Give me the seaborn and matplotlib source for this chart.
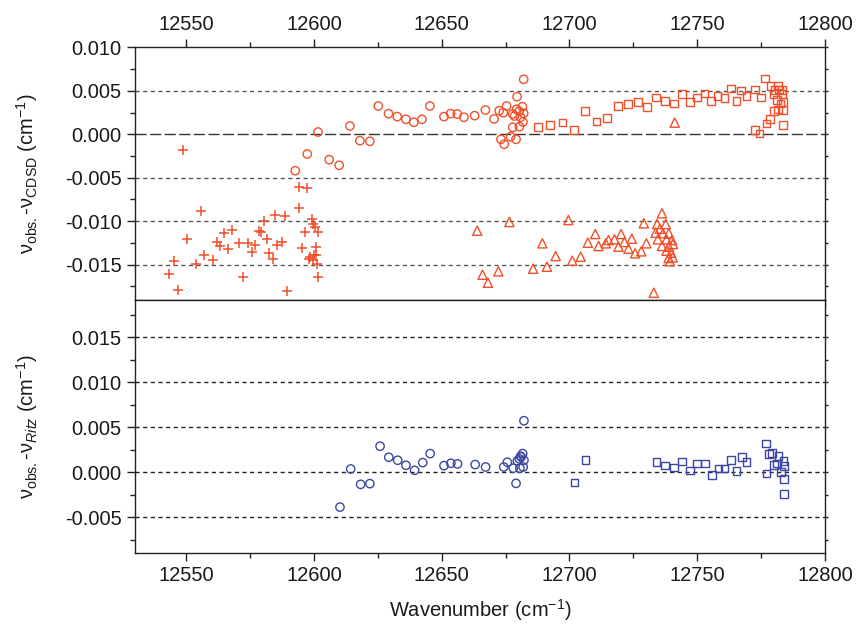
import numpy as np
import pandas as pd
import matplotlib
matplotlib.use("Agg")
import matplotlib.pyplot as plt
import seaborn as sns
from matplotlib.ticker import MultipleLocator, FormatStrFormatter

# ---------------- data ----------------
# top panel: obs - CDSD
plus_x = [12548.9, 12555.7, 12550.5, 12545.3, 12543.4, 12547.0, 12557.0, 12553.9, 12560.4, 12562.2,
          12563.3, 12564.8, 12568.0, 12566.4, 12570.6, 12572.1, 12574.2, 12575.8, 12577.1, 12578.4,
          12579.2, 12580.5, 12581.5, 12582.6, 12583.9, 12584.7, 12585.7, 12587.5, 12588.6, 12589.4,
          12594.0, 12597.2, 12594.0, 12595.4, 12596.6, 12599.2, 12599.5, 12600.3, 12601.6, 12600.8,
          12598.5, 12599.5, 12600.8, 12601.3, 12601.6, 12598.0, 12600.0]
plus_y = [-0.0018, -0.00886, -0.01208, -0.01453, -0.01611, -0.01791, -0.01385, -0.01488, -0.01446, -0.01239,
          -0.01285, -0.01139, -0.01101, -0.01316, -0.01247, -0.01645, -0.01254, -0.0135, -0.01277, -0.01108,
          -0.01124, -0.00994, -0.01208, -0.01369, -0.01438, -0.00932, -0.01277, -0.01239, -0.0094, -0.01799,
          -0.0061, -0.00618, -0.00851, -0.01308, -0.01124, -0.00978, -0.01032, -0.01063, -0.01124, -0.01293,
          -0.01408, -0.01446, -0.01392, -0.01492, -0.01638, -0.01438, -0.01388]

circ_x = [12592.7, 12597.4, 12601.6, 12606.0, 12609.9, 12614.1, 12618.0, 12621.9, 12625.2, 12629.2,
          12632.6, 12636.0, 12639.1, 12642.3, 12645.4, 12650.9, 12653.5, 12656.1, 12658.7, 12662.9,
          12667.1, 12670.5, 12672.5, 12674.1, 12675.4, 12677.8, 12678.5, 12679.3, 12680.3, 12681.6,
          12682.1, 12681.8, 12679.5, 12682.1, 12677.8, 12677.0, 12679.1, 12673.2, 12674.5, 12680.9,
          12680.4]
circ_y = [-0.00419, -0.00227, 0.00026, -0.00292, -0.00357, 0.00095, -0.00074, -0.00081, 0.00325, 0.00237,
          0.00203, 0.00172, 0.00138, 0.00172, 0.00325, 0.00203, 0.00237, 0.00233, 0.00196, 0.00214,
          0.00279, 0.00176, 0.00271, 0.00248, 0.00325, 0.00233, 0.0021, 0.00287, 0.00264, 0.00317,
          0.00241, 0.00141, 0.00432, 0.00632, 0.0008, -0.00028, -0.00058, -0.00058, -0.00115, 0.00196,
          0.00087]

sq_x = [12687.8, 12692.5, 12697.3, 12701.7, 12706.2, 12710.6, 12714.8, 12719.0, 12722.9, 12726.8,
        12730.4, 12733.8, 12737.5, 12740.9, 12744.0, 12747.1, 12750.0, 12752.9, 12755.4, 12758.0,
        12760.7, 12763.3, 12765.4, 12767.2, 12769.3, 12772.6, 12775.0, 12776.6, 12778.7, 12779.8,
        12780.3, 12781.6, 12782.1, 12783.4, 12783.6, 12782.6, 12781.6, 12780.0, 12778.4, 12777.1,
        12772.6, 12774.3, 12783.6, 12783.6, 12783.2, 12781.3]
sq_y = [0.00087, 0.00104, 0.00134, 0.00046, 0.00271, 0.00145, 0.00187, 0.00325, 0.00348, 0.00371,
        0.00317, 0.00425, 0.00386, 0.00356, 0.00463, 0.00371, 0.00425, 0.00471, 0.00386, 0.0044,
        0.00417, 0.00524, 0.0038, 0.00501, 0.0044, 0.00517, 0.00425, 0.00639, 0.00555, 0.00463,
        0.00509, 0.00563, 0.00517, 0.00463, 0.00371, 0.00356, 0.00287, 0.00271, 0.00179, 0.00126,
        0.00049, 0.00011, 0.00107, 0.0028, 0.00509, 0.00394]

tri_x = [12663.9, 12676.5, 12666.0, 12668.1, 12672.2, 12685.8, 12689.4, 12691.2, 12694.6, 12699.6,
         12701.1, 12704.4, 12707.2, 12710.1, 12711.4, 12714.2, 12715.3, 12717.6, 12719.2, 12720.2,
         12721.5, 12723.1, 12724.4, 12725.7, 12728.1, 12729.1, 12730.1, 12733.0, 12736.2, 12734.3,
         12735.4, 12737.7, 12733.7, 12736.6, 12738.9, 12734.6, 12738.0, 12740.1, 12736.2, 12738.9,
         12740.5, 12738.0, 12739.8, 12738.8, 12740.4, 12739.3, 12741.2]
tri_y = [-0.01109, -0.01009, -0.01615, -0.01707, -0.01576, -0.01546, -0.01254, -0.01523, -0.014, -0.00986,
         -0.01454, -0.01408, -0.01247, -0.01147, -0.01285, -0.01254, -0.01216, -0.01208, -0.01293, -0.01147,
         -0.01239, -0.01316, -0.01201, -0.01369, -0.01346, -0.01024, -0.01254, -0.01822, -0.00909, -0.01032,
         -0.01086, -0.01032, -0.01132, -0.01139, -0.01139, -0.01208, -0.01208, -0.01216, -0.01285, -0.01293,
         -0.01262, -0.01339, -0.01362, -0.01423, -0.01415, -0.01461, 0.00134]

# bottom panel: obs - Ritz
rc_x = [12610.2, 12614.4, 12618.3, 12621.9, 12625.9, 12629.3, 12632.8, 12636.0, 12639.4, 12642.6,
        12645.5, 12650.9, 12653.6, 12656.2, 12663.1, 12667.2, 12674.3, 12675.7, 12678.0, 12679.1,
        12679.6, 12680.4, 12680.9, 12681.7, 12682.2, 12681.9, 12680.6, 12682.2, 12681.1]
rc_y = [-0.00387, 0.00037, -0.00134, -0.00126, 0.0029, 0.00167, 0.00134, 0.00078, 0.00022, 0.00108,
        0.00208, 0.00074, 0.001, 0.00093, 0.00086, 0.00059, 0.00059, 0.00112, 0.00045, -0.00123,
        0.00126, 0.00149, 0.00179, 0.00208, 0.00134, 0.00059, 0.00045, 0.00573, 0.00171]

rs_x = [12702.0, 12706.3, 12734.1, 12737.5, 12740.9, 12744.0, 12747.1, 12750.0, 12753.0, 12755.7,
        12758.4, 12760.7, 12763.1, 12765.4, 12767.5, 12769.3, 12776.8, 12778.2, 12779.2, 12781.8,
        12780.0, 12781.3, 12777.1, 12782.9, 12783.7, 12784.0, 12784.0, 12784.0]
rs_y = [-0.00112, 0.00134, 0.00112, 0.00074, 0.00052, 0.00119, 0.00019, 0.00097, 0.00097, -0.00033,
        0.00041, 0.00041, 0.00134, 0.00015, 0.00171, 0.00115, 0.0032, 0.00201, 0.00216, 0.00179,
        0.00082, 0.00097, -0.00015, 0.0, 0.00126, 0.0007, -0.00075, -0.00242]

x_ticks = [12550, 12600, 12650, 12700, 12750, 12800]
top_yticks = [-0.015, -0.010, -0.005, 0.000, 0.005, 0.010]
bot_yticks = [-0.005, 0.000, 0.005, 0.010, 0.015]

# ---------------- style ----------------
sns.set_style("ticks")
plt.rcParams["font.family"] = ["Liberation Sans", "DejaVu Sans"]
plt.rcParams["mathtext.fontset"] = "custom"
plt.rcParams["mathtext.rm"] = "Liberation Sans"
plt.rcParams["mathtext.it"] = "Liberation Sans:italic"
plt.rcParams["mathtext.bf"] = "Liberation Sans:bold"

ORANGE = "#F0502A"
BLUE = "#3D47A3"
FS = 14.5

fig = plt.figure(figsize=(8.56, 6.28), dpi=100)
L, R = 135 / 856, 825 / 856
ax1 = fig.add_axes([L, 1 - 299.5 / 628, R - L, (299.5 - 47.3) / 628])
ax2 = fig.add_axes([L, 1 - 553.3 / 628, R - L, (553.3 - 299.5) / 628])

def scat(ax, x, y, marker, color, s, filled=True):
    df = pd.DataFrame({"x": x, "y": y})
    if filled:
        sns.scatterplot(data=df, x="x", y="y", ax=ax, marker=marker, s=s,
                        facecolor="none", edgecolor=color, linewidth=1.0, zorder=3)
    else:
        sns.scatterplot(data=df, x="x", y="y", ax=ax, marker=marker, s=s,
                        color=color, linewidth=1.1, zorder=3)

scat(ax1, plus_x, plus_y, "+", ORANGE, 50, filled=False)
scat(ax1, circ_x, circ_y, "o", ORANGE, 36)
scat(ax1, sq_x, sq_y, "s", ORANGE, 30)
scat(ax1, tri_x, tri_y, "^", ORANGE, 44)
scat(ax2, rc_x, rc_y, "o", BLUE, 36)
scat(ax2, rs_x, rs_y, "s", BLUE, 30)

for ax in (ax1, ax2):
    ax.set_xlim(12530, 12800)
    ax.set_xticks(x_ticks)
    ax.xaxis.set_minor_locator(MultipleLocator(25))
    ax.yaxis.set_minor_locator(MultipleLocator(0.0025))
    ax.yaxis.set_major_formatter(FormatStrFormatter("%.3f"))
    for sp in ax.spines.values():
        sp.set_visible(True)
        sp.set_linewidth(1.0)
        sp.set_color("#222222")
    ax.tick_params(axis="both", which="major", direction="out", length=6, width=1.0,
                   labelsize=FS, colors="#222222", labelcolor="#1a1a1a")
    ax.tick_params(axis="both", which="minor", direction="out", length=3.5, width=1.0, colors="#222222")
    ax.tick_params(axis="y", which="both", right=True, labelright=False)
    ax.set_xlabel("")
    ax.set_ylabel("")

# right-side y ticks are tiny
for ax in (ax1, ax2):
    for t in ax.yaxis.get_major_ticks() + ax.yaxis.get_minor_ticks():
        t.tick2line.set_markersize(2.5)

ax1.set_ylim(-0.019, 0.010)
ax1.set_yticks(top_yticks)
ax1.tick_params(axis="x", which="both", top=True, bottom=True, labeltop=True, labelbottom=False)
ax2.set_ylim(-0.009, 0.0192)
ax2.set_yticks(bot_yticks)
ax2.tick_params(axis="x", which="both", top=False, bottom=True, labeltop=False, labelbottom=True)

# horizontal dashed reference lines
for v in [0.005, -0.005, -0.010, -0.015]:
    ax1.axhline(v, color="#555555", lw=1.0, ls=(0, (3, 2.5)), zorder=1)
ax1.axhline(0.0, color="#333333", lw=1.0, ls=(0, (8, 2.5)), zorder=1)
for v in bot_yticks:
    ax2.axhline(v, color="#222222", lw=1.0, ls=(0, (3, 2.5)), zorder=1)

ax1.set_ylabel("ν$_{\\mathrm{obs.}}$-ν$_{\\mathrm{CDSD}}$ (cm$^{-1}$)", fontsize=FS, color="#1a1a1a")
ax2.set_ylabel("ν$_{\\mathrm{obs.}}$-ν$_{Ritz}$ (cm$^{-1}$)", fontsize=FS, color="#1a1a1a")
ax1.yaxis.set_label_coords(-0.138, 0.5)
ax2.yaxis.set_label_coords(-0.138, 0.5)
ax2.set_xlabel("Wavenumber (cm$^{-1}$)", fontsize=FS, color="#1a1a1a", labelpad=8)

fig.savefig("out.png", dpi=100)
